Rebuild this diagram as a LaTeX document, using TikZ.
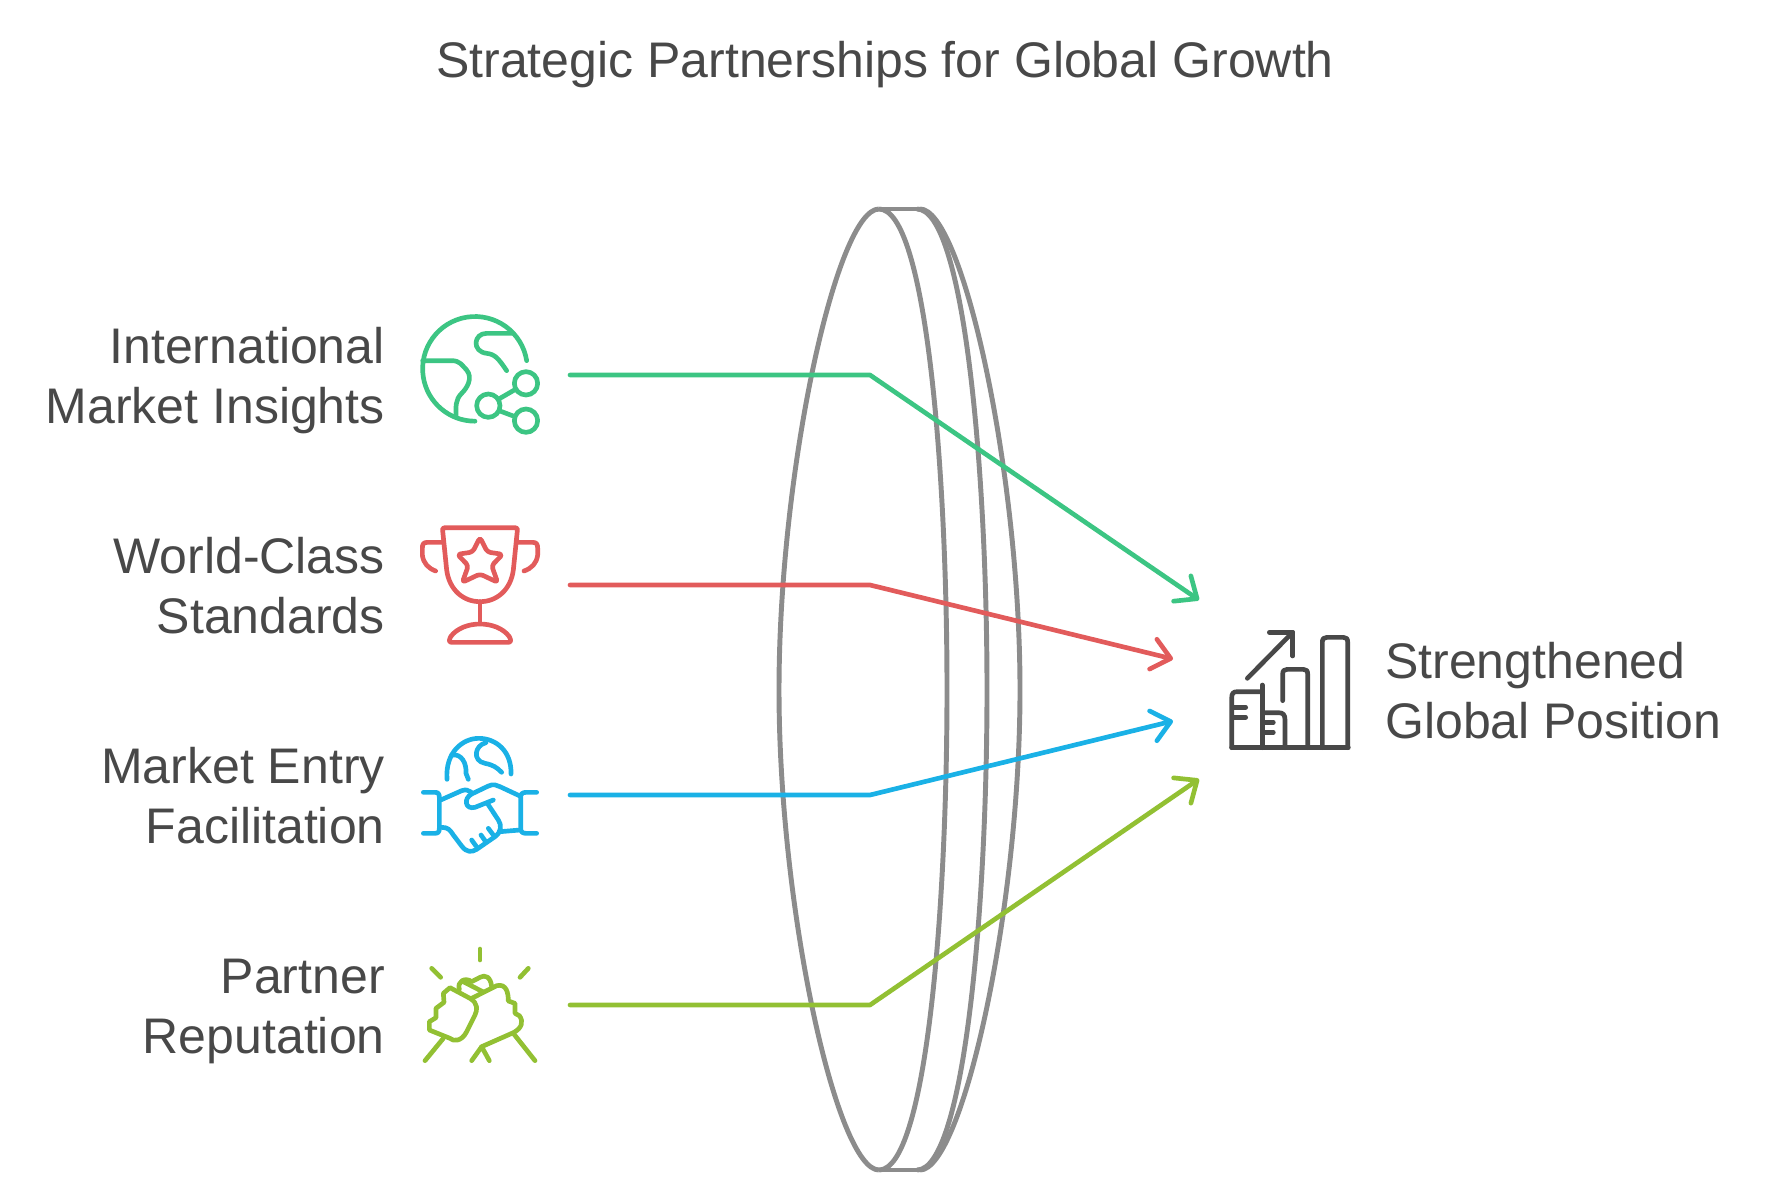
\documentclass[tikz,border=0pt]{standalone}
\usepackage{fontspec}
\setmainfont{Liberation Sans}
\usetikzlibrary{arrows.meta}
\definecolor{cgreen}{HTML}{3CC583}
\definecolor{cred}{HTML}{E25B5B}
\definecolor{cblue}{HTML}{1AB1E6}
\definecolor{clime}{HTML}{92C033}
\definecolor{cdark}{HTML}{484848}
\definecolor{clens}{HTML}{8C8C8C}
\tikzset{
 lbl/.style={font=\fontsize{37.5pt}{45pt}\selectfont,text=cdark,inner sep=0pt},
 lensline/.style={draw=clens,line width=3.7pt,line join=round},
 conn/.style={line width=3.5pt,line join=round,line cap=round,-{Straight Barb[length=13.5pt,width=23pt,line width=3.5pt,round]}},
 ico/.style={line width=3.5pt,line cap=round,line join=round,fill=none},
 zA/.style={x=0.25pt,y=-0.25pt,xshift=300pt,yshift=-225pt},
 zB/.style={x=0.25pt,y=-0.25pt,xshift=300pt,yshift=-540pt},
 zC/.style={x=0.25pt,y=-0.25pt,xshift=862.5pt,yshift=-427.5pt},
}
\begin{document}
\begin{tikzpicture}[x=0.75pt,y=-0.75pt]
\useasboundingbox (0,0) rectangle (1770,1203);
\node[lbl] (title) at (885,65) {Strategic Partnerships for Global Growth};
% lens
\draw[lensline] (879,209) -- (920,209);
\draw[lensline] (879,1170) -- (920,1170);
\draw[lensline] (879,209) .. controls (837,209) and (779,470) .. (779,690) .. controls (779,910) and (837,1170) .. (879,1170);
\draw[lensline] (879,209) .. controls (926,209) and (947,470) .. (947,690) .. controls (947,910) and (926,1170) .. (879,1170);
\draw[lensline] (917,209) .. controls (964,209) and (987,470) .. (987,690) .. controls (987,910) and (964,1170) .. (917,1170);
\draw[lensline] (920,209) .. controls (962,209) and (1020,470) .. (1020,690) .. controls (1020,910) and (962,1170) .. (920,1170);
% labels
\node[lbl,anchor=east,align=right] (l1) at (385,381) {\strut International\\\strut Market Insights};
\node[lbl,anchor=east,align=right] (l2) at (385,591) {\strut World-Class\\\strut Standards};
\node[lbl,anchor=east,align=right] (l3) at (385,801) {\strut Market Entry\\\strut Facilitation};
\node[lbl,anchor=east,align=right] (l4) at (385,1011) {\strut Partner\\\strut Reputation};
\node[lbl,anchor=west,align=left] (r) at (1385,696) {\strut Strengthened\\\strut Global Position};
% connectors
\coordinate (s1) at (570,375); \coordinate (b1) at (870,375); \coordinate (t1) at (1199,600);
\coordinate (s2) at (570,585); \coordinate (b2) at (870,585); \coordinate (t2) at (1173,659);
\coordinate (s3) at (570,795); \coordinate (b3) at (870,795); \coordinate (t3) at (1173,721);
\coordinate (s4) at (570,1005); \coordinate (b4) at (870,1005); \coordinate (t4) at (1199,779);
\draw[conn,cgreen] (s1) -- (b1) -- (t1);
\draw[conn,cred] (s2) -- (b2) -- (t2);
\draw[conn,cblue] (s3) -- (b3) -- (t3);
\draw[conn,clime] (s4) -- (b4) -- (t4);
% globe icon
\begin{scope}[zA,ico,draw=cgreen]
\draw (380,182) arc[start angle=-9,end angle=-270,radius=157];
\draw (335,100) -- (260,100) .. controls (220,100) and (215,155) .. (260,160) .. controls (285,163) and (295,175) .. (320,212);
\draw (68,182) -- (155,182) .. controls (180,182) and (185,195) .. (200,210) .. controls (220,235) and (200,265) .. (185,280) .. controls (165,300) and (168,320) .. (168,350);
\draw (378,250) circle[radius=35];
\draw (265,317) circle[radius=35];
\draw (378,362) circle[radius=35];
\draw (300,295) -- (343,270);
\draw (300,333) -- (345,350);
% trophy
\begin{scope}[draw=cred]
\draw (240,683) -- (345,683) .. controls (352,683) and (353,686) .. (352,692) -- (340,810) .. controls (332,870) and (290,905) .. (240,905) .. controls (190,905) and (148,870) .. (140,810) -- (128,692) .. controls (127,686) and (128,683) .. (135,683) -- cycle;
\draw (130,727) -- (82,727) .. controls (70,727) and (67,733) .. (67,745) -- (67,765) .. controls (70,790) and (85,805) .. (107,813);
\draw (350,727) -- (398,727) .. controls (410,727) and (413,733) .. (413,745) -- (413,765) .. controls (410,790) and (395,805) .. (372,813);
\draw (240,905) -- (240,970);
\draw (155,1027) -- (325,1027) .. controls (335,1027) and (332,1018) .. (328,1010) .. controls (310,985) and (275,972) .. (240,972) .. controls (205,972) and (170,985) .. (152,1010) .. controls (148,1018) and (145,1027) .. (155,1027) -- cycle;
\draw[rounded corners=2.4pt] (240,712) -- (262,756) -- (308,763) -- (275,797) -- (293,847) -- (240,822) -- (187,847) -- (205,797) -- (172,763) -- (218,756) -- cycle;
\end{scope}
\end{scope}
% handshake
\begin{scope}[zB,ico,draw=cblue]
\draw (141,178) .. controls (135,95) and (190,55) .. (236,55) .. controls (290,55) and (335,95) .. (333,162);
\draw (155,105) .. controls (185,100) and (200,130) .. (198,160) -- (205,178);
\draw (258,68) .. controls (225,75) and (215,122) .. (255,130) .. controls (280,135) and (290,142) .. (305,157);
\draw (70,217) -- (105,217) .. controls (115,217) and (118,222) .. (118,232) -- (118,325) .. controls (118,335) and (115,340) .. (105,340) -- (70,340);
\draw (410,217) -- (378,217) .. controls (367,217) and (362,222) .. (362,232) -- (362,325) .. controls (362,335) and (367,340) .. (378,340) -- (410,340);
\draw (122,240) -- (185,212) .. controls (197,208) and (205,210) .. (213,216);
\draw (280,240) -- (225,262) .. controls (195,270) and (190,235) .. (215,222) -- (265,198) .. controls (280,191) and (290,195) .. (300,200) -- (360,228);
\draw (125,322) .. controls (145,322) and (150,330) .. (160,345) -- (185,378) .. controls (200,398) and (215,397) .. (230,388) -- (285,350) .. controls (305,335) and (305,315) .. (295,300) -- (262,250);
\draw (215,360) -- (228,378);
\draw (243,345) -- (255,362);
\draw (265,325) -- (280,345);
\draw (300,335) -- (360,330);
% arms
\begin{scope}[draw=clime]
\draw (240,687) -- (240,720);
\draw (95,745) -- (122,772);
\draw (385,745) -- (360,772);
\draw (130,955) -- (75,1022);
\draw (340,940) -- (405,1022);
\draw (215,1022) -- (245,980) -- (268,1022);
\draw (215,835) -- (290,797) .. controls (320,790) and (325,820) .. (325,843) -- (345,850) -- (345,880) -- (358,887) .. controls (372,905) and (365,925) .. (340,938) -- (245,980);
\draw (150,803) -- (210,835) .. controls (235,850) and (232,870) .. (225,885) -- (200,935) .. controls (185,965) and (160,965) .. (150,955) -- (88,930) -- (88,905) -- (108,893) -- (108,865) -- (132,847) -- (130,820) -- cycle;
\draw (275,800) .. controls (272,770) and (255,763) .. (240,772) -- (215,785) .. controls (195,770) and (170,785) .. (178,808);
\draw (190,785) -- (248,815);
\end{scope}
\end{scope}
% chart
\begin{scope}[zC,ico,draw=cdark]
\draw (245,533) -- (595,533);
\draw (245,533) -- (245,385) .. controls (245,370) and (250,365) .. (262,365) -- (337,365);
\draw (337,345) -- (337,533);
\draw (250,412) -- (287,412);
\draw (250,442) -- (287,442);
\draw (340,428) -- (385,428) .. controls (400,428) and (405,435) .. (405,450) -- (405,533);
\draw (345,457) -- (370,457);
\draw (345,487) -- (370,487);
\draw (398,392) -- (398,312) .. controls (398,302) and (403,298) .. (412,298) -- (460,298) .. controls (469,298) and (473,302) .. (473,312) -- (473,533);
\draw (517,533) -- (517,216) .. controls (517,206) and (522,202) .. (531,202) -- (580,202) .. controls (589,202) and (593,206) .. (593,216) -- (593,533);
\draw (292,325) -- (428,187);
\draw (358,187) -- (428,187) -- (428,258);
\end{scope}
\end{tikzpicture}
\end{document}
